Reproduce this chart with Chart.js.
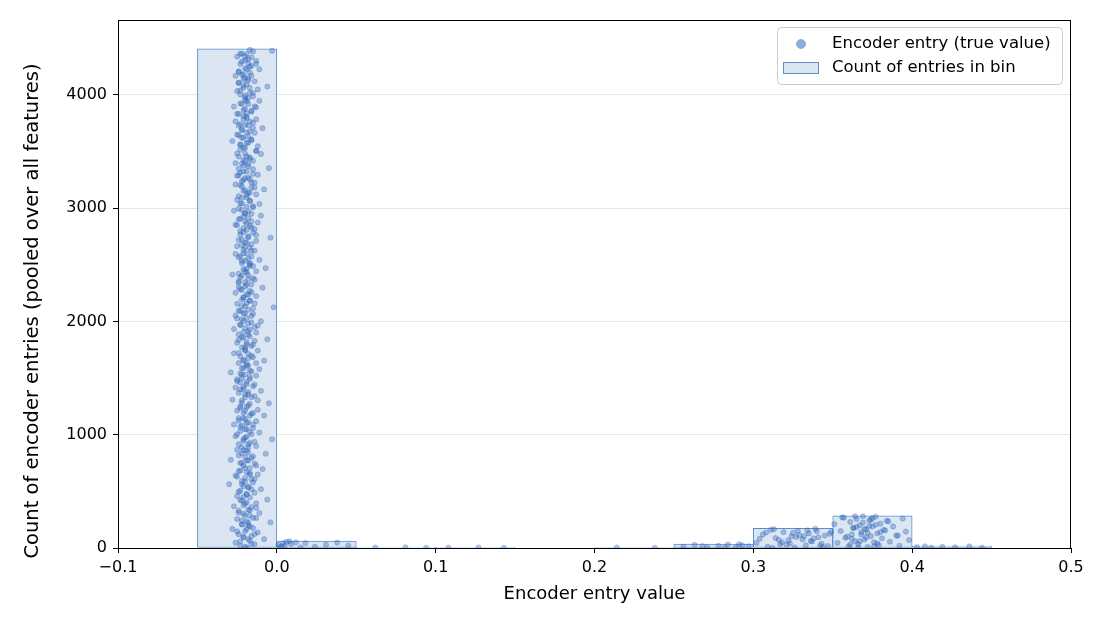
<!DOCTYPE html>
<html>
<head>
<meta charset="utf-8">
<script src="https://cdn.jsdelivr.net/npm/chart.js@4"></script>
<style>
  html, body { margin: 0; padding: 0; background: #fff; }
  canvas { display: block; }
</style>
</head>
<body>
<canvas id="histChart" width="1105" height="624"></canvas>
<script>
const pointColor = "rgba(46,100,184,0.36)"
const pointEdge = "rgba(46,100,184,0.48)"
const binFill = "#dce6f3"
const binEdge = "#5b8fd0"
const fontFamily = "'DejaVu Sans', sans-serif"

// histogram bins (left edge, width 0.05) and their counts
const binWidth = 0.05
const binStarts = [-0.05, 0.0, 0.05, 0.10, 0.15, 0.20, 0.25, 0.30, 0.35, 0.40]
const binCounts = [4405, 62, 8, 5, 0, 5, 35, 174, 285, 18]

const xTicks = [-0.1, 0.0, 0.1, 0.2, 0.3, 0.4, 0.5]
const yTicks = [0, 1000, 2000, 3000, 4000]

// encoder entries: [true value, height inside its bin]
const entriesNearZero = [
  [-0.019,6],[-0.023,18],[-0.014,34],[-0.026,47],[-0.017,64],[-0.008,78],[-0.021,93],[-0.016,104],[-0.024,122],[-0.012,137],
  [-0.020,150],[-0.028,168],[-0.015,177],[-0.018,199],[-0.022,208],[-0.004,227],[-0.019,237],[-0.025,256],[-0.013,265],[-0.017,287],
  [-0.021,303],[-0.011,309],[-0.024,331],[-0.018,338],[-0.016,361],[-0.027,368],[-0.020,391],[-0.013,395],[-0.022,419],[-0.006,427],
  [-0.017,447],[-0.025,459],[-0.019,475],[-0.014,488],[-0.023,505],[-0.010,519],[-0.018,534],[-0.021,545],[-0.030,563],[-0.015,578],
  [-0.022,591],[-0.016,609],[-0.020,618],[-0.026,640],[-0.012,649],[-0.019,668],[-0.024,678],[-0.009,697],[-0.017,706],[-0.021,728],
  [-0.014,744],[-0.023,750],[-0.018,772],[-0.029,779],[-0.020,802],[-0.015,809],[-0.007,832],[-0.022,836],[-0.019,860],[-0.025,868],
  [-0.018,888],[-0.013,900],[-0.024,916],[-0.017,929],[-0.021,946],[-0.003,960],[-0.020,975],[-0.026,986],[-0.016,1004],[-0.011,1019],
  [-0.023,1032],[-0.019,1050],[-0.015,1059],[-0.022,1081],[-0.027,1090],[-0.018,1109],[-0.013,1119],[-0.020,1138],[-0.024,1147],[-0.008,1169],
  [-0.016,1185],[-0.021,1191],[-0.025,1213],[-0.012,1220],[-0.019,1243],[-0.023,1250],[-0.017,1273],[-0.005,1277],[-0.022,1301],[-0.028,1309],
  [-0.020,1329],[-0.014,1341],[-0.018,1357],[-0.024,1370],[-0.010,1387],[-0.021,1401],[-0.026,1416],[-0.015,1427],[-0.019,1445],[-0.023,1460],
  [-0.025,1473],[-0.017,1491],[-0.022,1500],[-0.013,1522],[-0.020,1531],[-0.029,1550],[-0.016,1560],[-0.011,1579],[-0.021,1588],[-0.018,1610],
  [-0.019,1626],[-0.024,1632],[-0.008,1654],[-0.021,1661],[-0.015,1684],[-0.023,1691],[-0.018,1714],[-0.027,1718],[-0.012,1742],[-0.020,1750],
  [-0.022,1770],[-0.016,1782],[-0.019,1798],[-0.025,1811],[-0.014,1828],[-0.006,1842],[-0.021,1857],[-0.017,1868],[-0.024,1886],[-0.013,1901],
  [-0.018,1914],[-0.027,1932],[-0.020,1941],[-0.012,1963],[-0.023,1972],[-0.016,1991],[-0.010,2001],[-0.022,2020],[-0.019,2029],[-0.026,2051],
  [-0.015,2067],[-0.021,2073],[-0.024,2095],[-0.018,2102],[-0.002,2125],[-0.020,2132],[-0.025,2155],[-0.014,2159],[-0.017,2183],[-0.022,2191],
  [-0.021,2211],[-0.013,2223],[-0.019,2239],[-0.026,2252],[-0.017,2269],[-0.023,2283],[-0.009,2298],[-0.020,2309],[-0.016,2327],[-0.024,2342],
  [-0.024,2355],[-0.018,2373],[-0.015,2382],[-0.022,2404],[-0.028,2413],[-0.019,2432],[-0.013,2442],[-0.021,2461],[-0.007,2470],[-0.017,2492],
  [-0.017,2508],[-0.022,2514],[-0.020,2536],[-0.011,2543],[-0.024,2566],[-0.016,2573],[-0.026,2596],[-0.019,2600],[-0.014,2624],[-0.021,2632],
  [-0.020,2652],[-0.025,2664],[-0.016,2680],[-0.019,2693],[-0.013,2710],[-0.022,2724],[-0.004,2739],[-0.018,2750],[-0.023,2768],[-0.015,2783],
  [-0.023,2796],[-0.014,2814],[-0.021,2823],[-0.017,2845],[-0.026,2854],[-0.012,2873],[-0.020,2883],[-0.024,2902],[-0.018,2911],[-0.010,2933],
  [-0.016,2949],[-0.020,2955],[-0.027,2977],[-0.022,2984],[-0.015,3007],[-0.019,3014],[-0.011,3037],[-0.023,3041],[-0.017,3065],[-0.025,3073],
  [-0.019,3093],[-0.024,3105],[-0.013,3121],[-0.018,3134],[-0.021,3151],[-0.008,3165],[-0.016,3180],[-0.022,3191],[-0.026,3209],[-0.014,3224],
  [-0.022,3237],[-0.017,3255],[-0.020,3264],[-0.025,3286],[-0.012,3295],[-0.023,3314],[-0.019,3324],[-0.015,3343],[-0.005,3352],[-0.021,3374],
  [-0.018,3390],[-0.026,3396],[-0.015,3418],[-0.021,3425],[-0.017,3448],[-0.024,3455],[-0.010,3478],[-0.020,3482],[-0.013,3506],[-0.023,3514],
  [-0.021,3534],[-0.012,3546],[-0.023,3562],[-0.019,3575],[-0.028,3592],[-0.016,3606],[-0.022,3621],[-0.018,3632],[-0.025,3650],[-0.014,3665],
  [-0.017,3678],[-0.022,3696],[-0.009,3705],[-0.024,3727],[-0.020,3736],[-0.015,3755],[-0.026,3765],[-0.013,3784],[-0.019,3793],[-0.021,3815],
  [-0.024,3831],[-0.019,3837],[-0.016,3859],[-0.021,3866],[-0.013,3889],[-0.027,3896],[-0.018,3919],[-0.023,3923],[-0.011,3947],[-0.020,3955],
  [-0.020,3975],[-0.015,3987],[-0.023,4003],[-0.017,4016],[-0.025,4033],[-0.012,4047],[-0.021,4062],[-0.006,4073],[-0.019,4091],[-0.024,4106],
  [-0.014,4119],[-0.021,4137],[-0.018,4146],[-0.026,4168],[-0.022,4177],[-0.017,4196],[-0.024,4206],[-0.011,4225],[-0.020,4234],[-0.016,4256],
  [-0.023,4272],[-0.018,4278],[-0.013,4300],[-0.020,4307],[-0.016,4330],[-0.025,4337],[-0.019,4360],[-0.022,4364],[-0.003,4388],[-0.017,4396]
]

// the dense core of the same bin
const entriesCore = [
  [-0.020,11],[-0.016,35],[-0.023,57],[-0.018,79],[-0.021,101],[-0.014,123],[-0.025,146],[-0.019,168],[-0.017,190],[-0.022,209],
  [-0.018,222],[-0.022,244],[-0.015,266],[-0.020,288],[-0.024,312],[-0.017,332],[-0.013,355],[-0.021,377],[-0.019,401],[-0.023,423],
  [-0.021,451],[-0.019,475],[-0.024,497],[-0.016,519],[-0.018,541],[-0.022,563],[-0.020,586],[-0.014,608],[-0.025,630],[-0.017,649],
  [-0.017,662],[-0.023,684],[-0.020,706],[-0.013,728],[-0.022,752],[-0.019,772],[-0.016,795],[-0.024,817],[-0.018,841],[-0.021,863],
  [-0.022,891],[-0.018,915],[-0.014,937],[-0.021,959],[-0.019,981],[-0.025,1003],[-0.017,1026],[-0.020,1048],[-0.023,1070],[-0.015,1089],
  [-0.019,1102],[-0.024,1124],[-0.021,1146],[-0.017,1168],[-0.015,1192],[-0.020,1212],[-0.023,1235],[-0.018,1257],[-0.022,1281],[-0.012,1303],
  [-0.016,1331],[-0.020,1355],[-0.018,1377],[-0.023,1399],[-0.021,1421],[-0.014,1443],[-0.019,1466],[-0.025,1488],[-0.017,1510],[-0.022,1529],
  [-0.023,1542],[-0.017,1564],[-0.022,1586],[-0.019,1608],[-0.013,1632],[-0.021,1652],[-0.018,1675],[-0.016,1697],[-0.024,1721],[-0.020,1743],
  [-0.020,1771],[-0.015,1795],[-0.019,1817],[-0.024,1839],[-0.022,1861],[-0.018,1883],[-0.021,1906],[-0.017,1928],[-0.014,1950],[-0.023,1969],
  [-0.018,1982],[-0.021,2004],[-0.025,2026],[-0.016,2048],[-0.020,2072],[-0.023,2092],[-0.015,2115],[-0.022,2137],[-0.019,2161],[-0.017,2183],
  [-0.021,2211],[-0.018,2235],[-0.016,2257],[-0.022,2279],[-0.024,2301],[-0.019,2323],[-0.020,2346],[-0.014,2368],[-0.023,2390],[-0.018,2409],
  [-0.024,2422],[-0.020,2444],[-0.019,2466],[-0.015,2488],[-0.017,2512],[-0.022,2532],[-0.018,2555],[-0.023,2577],[-0.021,2601],[-0.016,2623],
  [-0.017,2651],[-0.022,2675],[-0.020,2697],[-0.024,2719],[-0.018,2741],[-0.013,2763],[-0.021,2786],[-0.019,2808],[-0.016,2830],[-0.025,2849],
  [-0.019,2862],[-0.016,2884],[-0.023,2906],[-0.021,2928],[-0.020,2952],[-0.018,2972],[-0.024,2995],[-0.015,3017],[-0.022,3041],[-0.017,3063],
  [-0.022,3091],[-0.019,3115],[-0.017,3137],[-0.020,3159],[-0.014,3181],[-0.023,3203],[-0.016,3226],[-0.021,3248],[-0.018,3270],[-0.024,3289],
  [-0.015,3302],[-0.021,3324],[-0.024,3346],[-0.018,3368],[-0.022,3392],[-0.020,3412],[-0.017,3435],[-0.019,3457],[-0.025,3481],[-0.013,3503],
  [-0.020,3531],[-0.023,3555],[-0.018,3577],[-0.016,3599],[-0.021,3621],[-0.024,3643],[-0.019,3666],[-0.022,3688],[-0.015,3710],[-0.018,3729],
  [-0.023,3742],[-0.017,3764],[-0.021,3786],[-0.019,3808],[-0.025,3832],[-0.016,3852],[-0.020,3875],[-0.014,3897],[-0.022,3921],[-0.019,3943],
  [-0.018,3971],[-0.020,3995],[-0.015,4017],[-0.023,4039],[-0.017,4061],[-0.021,4083],[-0.024,4106],[-0.018,4128],[-0.020,4150],[-0.016,4169],
  [-0.021,4182],[-0.024,4204],[-0.019,4226],[-0.017,4248],[-0.013,4272],[-0.022,4292],[-0.018,4315],[-0.020,4337],[-0.023,4361],[-0.015,4383]
]

const entriesLow = [
  [0.002,8],[0.004,41],[0.001,27],[0.006,55],[0.003,14],[0.009,36],[0.012,50],[0.005,20],
  [0.018,44],[0.024,12],[0.031,29],[0.038,48],[0.045,22],[0.015,5],[0.008,59],
  [0.062,3],[0.081,6],[0.094,2],[0.108,2],[0.127,4],[0.143,1],[0.214,3],[0.238,2]
]

const entriesHigh = [
  [0.256,12],[0.263,28],[0.271,6],[0.278,20],[0.284,31],[0.289,9],[0.293,24],[0.297,15],[0.282,3],[0.268,17],[0.291,33],
  [0.302,45],[0.306,120],[0.309,12],[0.311,160],[0.314,88],[0.317,33],[0.319,140],[0.322,67],[0.324,102],[0.326,5],
  [0.328,151],[0.331,76],[0.333,23],[0.335,129],[0.337,58],[0.339,169],[0.341,94],[0.343,38],[0.345,110],[0.347,17],
  [0.349,143],[0.304,82],[0.313,166],[0.321,29],[0.329,113],[0.336,62],[0.344,8],[0.308,137],[0.318,51],[0.327,97],
  [0.334,155],[0.342,20],[0.348,125],[0.316,72],[0.323,41],[0.332,106],[0.340,147],[0.312,1],[0.325,133],[0.338,85],
  [0.351,210],[0.353,45],[0.355,150],[0.357,268],[0.358,90],[0.360,15],[0.361,230],[0.362,120],[0.363,180],[0.364,60],
  [0.365,255],[0.366,35],[0.367,200],[0.368,140],[0.369,280],[0.370,75],[0.371,165],[0.372,10],[0.373,245],[0.374,105],
  [0.375,190],[0.376,50],[0.377,275],[0.378,130],[0.379,25],[0.380,215],[0.381,85],[0.382,160],[0.384,240],[0.386,55],
  [0.388,190],[0.390,110],[0.392,20],[0.394,260],[0.396,145],[0.398,70],[0.359,100],[0.363,175],[0.366,5],[0.369,225],
  [0.372,135],[0.375,265],[0.378,40],[0.365,185],[0.371,95],[0.374,250],[0.368,120],[0.361,30],[0.377,205],[0.383,155],
  [0.356,270],[0.362,80],[0.370,170],[0.376,15],[0.385,235],[0.391,110],[0.367,60],[0.373,195],[0.364,280],[0.380,140],
  [0.403,8],[0.408,15],[0.412,3],[0.419,11],[0.427,6],[0.436,14],[0.444,2]
]

const entryPoints = entriesNearZero.concat(entriesCore, entriesLow, entriesHigh).map(([x, y]) => ({ x: x, y: y }))
const binPoints = binStarts.map((s, i) => ({ x: s + binWidth / 2, y: binCounts[i] }))

// frame, y label (centred on the figure) and legend box
const decorations = {
  id: 'decorations',
  afterDraw(chart) {
    const c = chart.ctx
    const a = chart.chartArea
    c.save()
    c.strokeStyle = "#000"
    c.lineWidth = 1
    c.strokeRect(Math.round(a.left) + 0.5, Math.round(a.top) + 0.5, Math.round(a.right - a.left) - 1, Math.round(a.bottom - a.top))

    c.fillStyle = "#000"
    c.font = "19.5px " + fontFamily
    c.textAlign = "center"
    c.textBaseline = "middle"
    c.translate(33, 311)
    c.rotate(-Math.PI / 2)
    c.fillText("Count of encoder entries (pooled over all features)", 0, 0)
    c.restore()

    c.save()
    const bx = 777.5, by = 27.5, bw = 285, bh = 57, r = 4
    c.beginPath()
    c.moveTo(bx + r, by)
    c.arcTo(bx + bw, by, bx + bw, by + bh, r)
    c.arcTo(bx + bw, by + bh, bx, by + bh, r)
    c.arcTo(bx, by + bh, bx, by, r)
    c.arcTo(bx, by, bx + bw, by, r)
    c.closePath()
    c.fillStyle = "rgba(255,255,255,0.85)"
    c.fill()
    c.strokeStyle = "#cccccc"
    c.stroke()

    c.beginPath()
    c.arc(801, 44, 4.5, 0, Math.PI * 2)
    c.fillStyle = "#8aaddb"
    c.fill()
    c.strokeStyle = "#7ea4d8"
    c.lineWidth = 0.8
    c.stroke()

    c.fillStyle = binFill
    c.fillRect(783.5, 62.5, 35, 11)
    c.strokeStyle = binEdge
    c.lineWidth = 1
    c.strokeRect(783.5, 62.5, 35, 11)

    c.fillStyle = "#000"
    c.font = "16.5px " + fontFamily
    c.textAlign = "left"
    c.textBaseline = "middle"
    c.fillText("Encoder entry (true value)", 832, 44)
    c.fillText("Count of entries in bin", 832, 68)
    c.restore()
  }
}

const hist = new Chart(document.getElementById("histChart"), {
  type: 'bar',
  data: {
    datasets: [{
      type: 'scatter',
      label: 'Encoder entry (true value)',
      data: entryPoints,
      backgroundColor: pointColor,
      borderColor: pointEdge,
      borderWidth: 0.6,
      pointRadius: 2.6,
      order: 0
    }, {
      type: 'bar',
      label: 'Count of entries in bin',
      data: binPoints,
      backgroundColor: binFill,
      borderColor: binEdge,
      borderWidth: 1,
      borderSkipped: false,
      barPercentage: 1,
      categoryPercentage: 1,
      order: 1
    }]
  },
  options: {
    responsive: false,
    animation: false,
    layout: { padding: { top: 20, right: 34, left: 0, bottom: 0 } },
    plugins: {
      legend: { display: false },
      tooltip: { enabled: false }
    },
    scales: {
      x: {
        type: 'linear',
        offset: false,
        min: -0.1,
        max: 0.5,
        afterBuildTicks: (s) => { s.ticks = xTicks.map(v => ({ value: v })) },
        afterFit: (s) => { s.height = 76 },
        ticks: {
          color: "#000",
          padding: 5,
          maxRotation: 0,
          font: { family: fontFamily, size: 16 },
          callback: (v) => (v < 0 ? "\u2212" : "") + Math.abs(v).toFixed(1)
        },
        grid: { offset: false, drawOnChartArea: false, tickLength: 5, tickColor: "#000", tickWidth: 1 },
        border: { color: "#000", width: 1 },
        title: {
          display: true,
          text: 'Encoder entry value',
          color: "#000",
          font: { family: fontFamily, size: 18 },
          padding: { top: 0, bottom: 19 }
        }
      },
      y: {
        min: 0,
        max: 4660,
        afterBuildTicks: (s) => { s.ticks = yTicks.map(v => ({ value: v })) },
        afterFit: (s) => { s.width = 118 },
        ticks: {
          color: "#000",
          padding: 6,
          font: { family: fontFamily, size: 16 },
          callback: (v) => String(v)
        },
        grid: { color: "#e6e6e6", lineWidth: 1, tickLength: 5, tickColor: "#000", tickWidth: 1 },
        border: { color: "#000", width: 1 }
      }
    }
  },
  plugins: [decorations]
})
</script>
</body>
</html>
